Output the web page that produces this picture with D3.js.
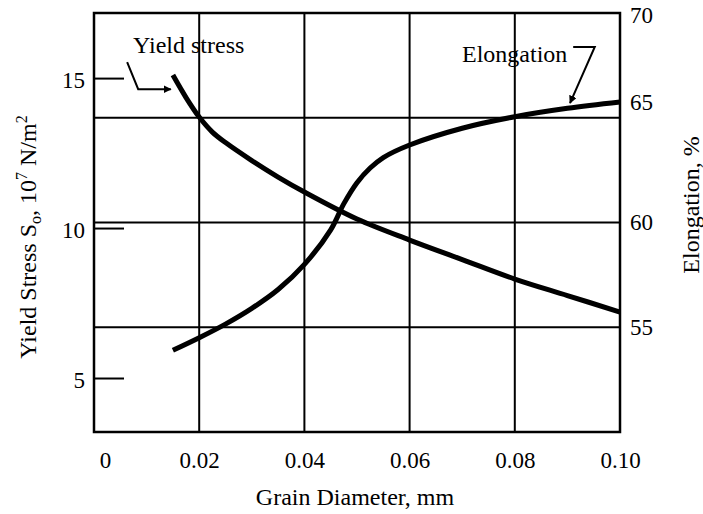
<!DOCTYPE html>
<html>
<head>
<meta charset="utf-8">
<script src="https://cdn.jsdelivr.net/npm/d3@7"></script>
<style>
  body { margin: 0; background: #fff; }
  svg text { font-family: "Liberation Serif", "Times New Roman", Times, "DejaVu Serif", serif !important; fill: #000; }
</style>
</head>
<body>
<svg id="chart" width="703" height="514"></svg>
<script>
// grain diameter (mm) vs yield stress (10^7 N/m^2)
const yieldDiameter = [0.015, 0.0175, 0.02, 0.0225, 0.025, 0.03, 0.035, 0.04, 0.05, 0.06, 0.07, 0.08, 0.09, 0.10]
const yieldStress = [15.1, 14.35, 13.7, 13.2, 12.85, 12.25, 11.7, 11.2, 10.3, 9.6, 8.95, 8.3, 7.75, 7.2]

// grain diameter (mm) vs elongation (%)
const elongDiameter = [0.015, 0.02, 0.025, 0.03, 0.035, 0.04, 0.045, 0.0475, 0.05, 0.0525, 0.055, 0.06, 0.07, 0.08, 0.09, 0.10]
const elongation = [53.9, 54.5, 55.15, 55.9, 56.8, 58.0, 59.65, 60.9, 61.9, 62.6, 63.1, 63.7, 64.5, 65.05, 65.45, 65.75]

const xTicks = [0, 0.02, 0.04, 0.06, 0.08, 0.10]
const xTickLabels = ['0', '0.02', '0.04', '0.06', '0.08', '0.10']
const yieldTicks = [5, 10, 15]
const elongTicks = [55, 60, 65, 70]

const svg = d3.select('#chart')
const plotLeft = 94, plotRight = 620, plotTop = 13, plotBottom = 432

const x = d3.scaleLinear().domain([0, 0.10]).range([plotLeft, plotRight])
const yYield = d3.scaleLinear().domain([3.2, 17.17]).range([plotBottom, plotTop])
const yElong = d3.scaleLinear().domain([50, 70]).range([plotBottom, plotTop])

// grid lines
svg.append('g')
    .selectAll('line')
    .data(xTicks.slice(1, -1))
    .enter().append('line')
    .attr('x1', d => x(d)).attr('x2', d => x(d))
    .attr('y1', plotTop).attr('y2', plotBottom)
    .attr('stroke', '#000').attr('stroke-width', 2)
svg.append('g')
    .selectAll('line')
    .data([55, 60, 65])
    .enter().append('line')
    .attr('x1', plotLeft).attr('x2', plotRight)
    .attr('y1', d => yElong(d)).attr('y2', d => yElong(d))
    .attr('stroke', '#000').attr('stroke-width', 2)

// frame
svg.append('rect')
    .attr('x', plotLeft).attr('y', plotTop)
    .attr('width', plotRight - plotLeft).attr('height', plotBottom - plotTop)
    .attr('fill', 'none').attr('stroke', '#000').attr('stroke-width', 2.5)

// bottom axis
const xAxis = svg.append('g')
    .attr('transform', `translate(0,${plotBottom})`)
    .call(d3.axisBottom(x).tickValues(xTicks).tickFormat((d, i) => xTickLabels[i]).tickSize(0).tickPadding(20))
xAxis.attr('font-family', null)
xAxis.select('.domain').remove()
xAxis.selectAll('text').attr('font-size', 23).attr('dx', (d, i) => i === 0 ? 11 : 0)

// left axis (yield stress), short inner ticks
const yAxisL = svg.append('g')
    .attr('transform', `translate(${plotLeft},0)`)
    .call(d3.axisLeft(yYield).tickValues(yieldTicks).tickSizeInner(-30).tickSizeOuter(0).tickPadding(9))
yAxisL.attr('font-family', null)
yAxisL.select('.domain').remove()
yAxisL.selectAll('line').attr('stroke-width', 2)
yAxisL.selectAll('text').attr('font-size', 23).attr('dy', '0.4em')

// right axis (elongation)
const yAxisR = svg.append('g')
    .attr('transform', `translate(${plotRight},0)`)
    .call(d3.axisRight(yElong).tickValues(elongTicks).tickSize(0).tickPadding(10))
yAxisR.attr('font-family', null)
yAxisR.select('.domain').remove()
yAxisR.selectAll('text').attr('font-size', 23)
    .attr('dy', d => d === 65 ? '-0.35em' : (d === 70 ? '0.4em' : '0.3em'))

// curves
const yieldLine = d3.line()
    .x((d, i) => x(yieldDiameter[i]))
    .y(d => yYield(d))
    .curve(d3.curveCatmullRom.alpha(0.5))
svg.append('path')
    .datum(yieldStress)
    .attr('d', yieldLine)
    .attr('fill', 'none').attr('stroke', '#000').attr('stroke-width', 5)

const elongLine = d3.line()
    .x((d, i) => x(elongDiameter[i]))
    .y(d => yElong(d))
    .curve(d3.curveCatmullRom.alpha(0.5))
svg.append('path')
    .datum(elongation)
    .attr('d', elongLine)
    .attr('fill', 'none').attr('stroke', '#000').attr('stroke-width', 5)

// annotations
svg.append('defs').append('marker')
    .attr('id', 'arrow')
    .attr('viewBox', '0 0 10 10')
    .attr('refX', 9).attr('refY', 5)
    .attr('markerWidth', 4).attr('markerHeight', 4)
    .attr('orient', 'auto-start-reverse')
    .append('path').attr('d', 'M0,0 L10,5 L0,10 z').attr('fill', '#000')

svg.append('text').attr('x', 133).attr('y', 53).attr('font-size', 24).text('Yield stress')
const yieldLeader = [[0.0063, 15.53], [0.0084, 14.63], [0.0146, 14.63]]
svg.append('path')
    .attr('d', d3.line().x(d => x(d[0])).y(d => yYield(d[1]))(yieldLeader))
    .attr('fill', 'none').attr('stroke', '#000').attr('stroke-width', 2)
    .attr('marker-end', 'url(#arrow)')

svg.append('text').attr('x', 462).attr('y', 62).attr('font-size', 24).text('Elongation')
const elongLeader = [[0.0911, 68.38], [0.0952, 68.38], [0.0905, 65.7]]
svg.append('path')
    .attr('d', d3.line().x(d => x(d[0])).y(d => yElong(d[1]))(elongLeader))
    .attr('fill', 'none').attr('stroke', '#000').attr('stroke-width', 2)
    .attr('marker-end', 'url(#arrow)')

// axis titles
svg.append('text')
    .attr('x', 355).attr('y', 505)
    .attr('text-anchor', 'middle').attr('font-size', 24)
    .text('Grain Diameter, mm')

const titleL = svg.append('text')
    .attr('transform', 'translate(36,237) rotate(-90)')
    .attr('text-anchor', 'middle').attr('font-size', 24)
titleL.append('tspan').text('Yield Stress S')
titleL.append('tspan').attr('font-size', 16).attr('dy', 5).text('o')
titleL.append('tspan').attr('dy', -5).text(', 10')
titleL.append('tspan').attr('font-size', 16).attr('dy', -9).text('7')
titleL.append('tspan').attr('dy', 9).text(' N/m')
titleL.append('tspan').attr('font-size', 16).attr('dy', -9).text('2')

svg.append('text')
    .attr('transform', 'translate(699,205) rotate(-90)')
    .attr('text-anchor', 'middle').attr('font-size', 24)
    .text('Elongation, %')
</script>
</body>
</html>
